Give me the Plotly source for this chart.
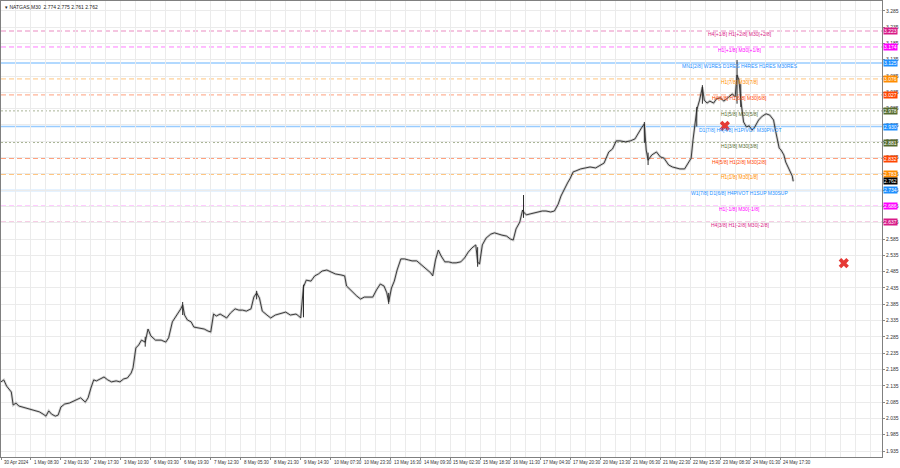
import plotly.graph_objects as go

title_text = "NATGAS,M30  2.774 2.775 2.761 2.762"

tick_labels = ["30 Apr 2024", "1 May 08:30", "2 May 01:30", "2 May 17:30", "3 May 10:30",
               "6 May 03:30", "6 May 19:30", "7 May 12:30", "8 May 05:30", "8 May 21:30",
               "9 May 14:30", "10 May 07:30", "10 May 23:30", "13 May 16:30", "14 May 09:30",
               "15 May 02:30", "15 May 18:30", "16 May 11:30", "17 May 04:30", "17 May 20:30",
               "20 May 13:30", "21 May 06:30", "21 May 22:30", "22 May 15:30", "23 May 08:30",
               "24 May 01:30", "24 May 17:30"]
tick_bars = [0, 32, 64, 96, 128, 160, 192, 224, 256, 288, 320, 352, 384, 416, 448,
             480, 512, 544, 576, 608, 640, 672, 704, 736, 768, 800, 832]

bars = [0, 3, 6, 11, 13, 16, 19, 23, 28, 32,
        36, 41, 45, 48, 51, 54, 58, 61, 64, 68,
        73, 77, 81, 85, 90, 93, 96, 99, 102, 107,
        110, 114, 118, 123, 127, 131, 135, 139, 141, 144,
        147, 150, 154, 157, 160, 165, 171, 176, 179, 183,
        188, 192, 194, 196, 199, 203, 206, 211, 217, 221,
        224, 227, 230, 234, 237, 241, 245, 250, 254, 258,
        262, 267, 270, 273, 276, 279, 284, 288, 293, 299,
        304, 309, 315, 318, 320, 323, 326, 331, 335, 339,
        343, 348, 352, 357, 363, 367, 369, 372, 375, 380,
        384, 388, 393, 397, 401, 405, 409, 412, 414, 417,
        420, 423, 427, 431, 435, 439, 444, 448, 452, 455,
        459, 461, 464, 467, 470, 474, 478, 482, 486, 491,
        495, 499, 503, 507, 509, 511, 514, 518, 523, 527,
        531, 535, 540, 544, 547, 550, 554, 557, 558, 561,
        565, 570, 574, 578, 582, 587, 591, 595, 598, 602,
        605, 608, 611, 614, 619, 624, 629, 635, 640, 644,
        649, 653, 657, 661, 667, 672, 677, 681, 684, 687,
        689, 691, 695, 700, 704, 708, 713, 717, 721, 725,
        730, 734, 737, 739, 741, 743, 746, 748, 749, 751,
        754, 757, 761, 764, 768, 772, 777, 781, 784, 786,
        788, 790, 793, 796, 799, 802, 805, 809, 813, 817,
        821, 825, 827, 829, 831, 833, 836, 838, 841, 843,
        845, 846]

close = [2.147, 2.153, 2.134, 2.116, 2.076, 2.082, 2.073, 2.070, 2.064, 2.061,
         2.058, 2.055, 2.048, 2.042, 2.058, 2.048, 2.042, 2.045, 2.070, 2.079,
         2.082, 2.088, 2.094, 2.098, 2.085, 2.098, 2.128, 2.153, 2.150, 2.159,
         2.162, 2.153, 2.147, 2.150, 2.147, 2.156, 2.159, 2.174, 2.190, 2.251,
         2.260, 2.275, 2.269, 2.309, 2.288, 2.275, 2.275, 2.269, 2.282, 2.331,
         2.352, 2.371, 2.383, 2.352, 2.337, 2.331, 2.315, 2.312, 2.309, 2.303,
         2.300, 2.355, 2.349, 2.355, 2.349, 2.343, 2.358, 2.371, 2.367, 2.367,
         2.364, 2.371, 2.407, 2.420, 2.404, 2.364, 2.352, 2.343, 2.352, 2.358,
         2.361, 2.352, 2.355, 2.349, 2.343, 2.438, 2.459, 2.456, 2.472, 2.478,
         2.487, 2.490, 2.484, 2.478, 2.475, 2.472, 2.441, 2.432, 2.423, 2.410,
         2.401, 2.407, 2.407, 2.407, 2.429, 2.447, 2.441, 2.420, 2.392, 2.435,
         2.456, 2.490, 2.524, 2.524, 2.521, 2.518, 2.518, 2.508, 2.496, 2.490,
         2.481, 2.472, 2.521, 2.551, 2.533, 2.515, 2.515, 2.512, 2.512, 2.515,
         2.527, 2.545, 2.558, 2.567, 2.515, 2.508, 2.567, 2.588, 2.600, 2.604,
         2.600, 2.597, 2.594, 2.585, 2.582, 2.616, 2.637, 2.674, 2.668, 2.659,
         2.662, 2.665, 2.668, 2.671, 2.671, 2.668, 2.671, 2.692, 2.717, 2.742,
         2.757, 2.772, 2.791, 2.794, 2.800, 2.803, 2.806, 2.803, 2.812, 2.818,
         2.852, 2.861, 2.886, 2.886, 2.883, 2.886, 2.892, 2.913, 2.926, 2.938,
         2.858, 2.827, 2.843, 2.852, 2.837, 2.833, 2.812, 2.806, 2.803, 2.800,
         2.800, 2.821, 2.833, 2.889, 2.935, 2.981, 3.011, 3.042, 3.051, 3.011,
         3.002, 3.008, 3.002, 3.015, 3.018, 3.008, 3.021, 3.030, 3.021, 3.088,
         3.073, 3.011, 2.944, 2.929, 2.932, 2.919, 2.929, 2.950, 2.962, 2.969,
         2.965, 2.950, 2.919, 2.889, 2.864, 2.858, 2.843, 2.821, 2.803, 2.791,
         2.778, 2.762]

wick_bars = [154, 194, 273, 323, 414, 509, 558, 687, 691, 743, 749, 786, 790]
wick_high = [2.285, 2.392, 2.426, 2.445, 2.420, 2.560, 2.720, 2.944, 2.850, 2.990, 3.057, 3.134, 3.060]
wick_low = [2.255, 2.352, 2.400, 2.345, 2.386, 2.500, 2.650, 2.880, 2.812, 2.930, 3.000, 3.000, 2.990]

level_prices = [3.223, 3.174, 3.125, 3.076, 3.027, 2.978, 2.930, 2.881, 2.832, 2.783, 2.734, 2.686, 2.637]
level_texts = ["H4[+1/8] H1[+2/8] M30[+2/8]", "H1[+1/8] M30[+1/8]",
               "MN1[2/8] W1RES D1RES H4RES H1RES M30RES", "H1[7/8] M30[7/8]",
               "H4[6/8] H1[6/8] M30[6/8]", "H1[5/8] M30[5/8]",
               "D1[7/8] H4[4/8] H1PIVOT M30PIVOT", "H1[3/8] M30[3/8]",
               "H4[5/8] H1[2/8] M30[2/8]", "H1[1/8] M30[1/8]",
               "W1[7/8] D1[6/8] H4PIVOT H1SUP M30SUP", "H1[-1/8] M30[-1/8]",
               "H4[3/8] H1[-2/8] M30[-2/8]"]
level_colors = ["#d81b87", "#ff00ff", "#1e90ff", "#ff8c00", "#ff4500", "#556b2f", "#1e90ff",
                "#556b2f", "#ff4500", "#ff8c00", "#1e90ff", "#ff00ff", "#d81b87"]
level_dash = ["5px,3px", "5px,3px", "solid", "5px,3px", "5px,3px", "2px,2px", "solid",
              "2px,2px", "5px,3px", "5px,3px", "solid", "5px,3px", "5px,3px"]
label_bar = 789

current_price = 2.762

mark_bars = [773, 900]
mark_prices = [2.932, 2.511]

fig = go.Figure()

# level lines
for p, c, d in zip(level_prices, level_colors, level_dash):
    fig.add_shape(type="line", xref="paper", x0=0, x1=1, yref="y", y0=p, y1=p,
                  line=dict(color=c, width=1.6 if d == "solid" else 1, dash=d),
                  opacity=0.45 if d == "solid" else 0.5, layer="below")

# price path (soft band under the close line to mimic dense bars)
fig.add_trace(go.Scatter(x=bars, y=close, mode="lines",
                         line=dict(color="rgba(80,80,80,0.25)", width=2.6), hoverinfo="skip"))
fig.add_trace(go.Scatter(x=bars, y=close, mode="lines",
                         line=dict(color="#2a2a2a", width=0.9), hoverinfo="skip"))
wx, wy = [], []
for b, h, l in zip(wick_bars, wick_high, wick_low):
    wx += [b, b, None]
    wy += [l, h, None]
fig.add_trace(go.Scatter(x=wx, y=wy, mode="lines",
                         line=dict(color="#2a2a2a", width=1), hoverinfo="skip"))

# red crosses
fig.add_trace(go.Scatter(x=mark_bars, y=mark_prices, mode="markers",
                         marker=dict(symbol="x", size=9, color="#e53935", line=dict(width=0)),
                         hoverinfo="skip"))

# level texts
for p, t, c in zip(level_prices, level_texts, level_colors):
    fig.add_annotation(x=label_bar, y=p, xref="x", yref="y", text=t, showarrow=False,
                       xanchor="center", yanchor="middle", yshift=-3,
                       font=dict(family="Liberation Sans", size=5, color=c))

# right price labels
for p, c in zip(level_prices, level_colors):
    fig.add_annotation(x=1, y=p, xref="paper", yref="y", text=f"{p:.3f}", showarrow=False,
                       xanchor="left", yanchor="middle", xshift=1, bgcolor=c, borderpad=0,
                       font=dict(family="Liberation Sans", size=5, color="white"))
fig.add_annotation(x=1, y=current_price, xref="paper", yref="y", text=f"{current_price:.3f}",
                   showarrow=False, xanchor="left", yanchor="middle", xshift=1,
                   bgcolor="#000000", borderpad=0,
                   font=dict(family="Liberation Sans", size=5, color="white"))

# x labels
for b, t in zip(tick_bars, tick_labels):
    fig.add_annotation(x=b, y=0, xref="x", yref="paper", text=t, showarrow=False,
                       xanchor="left", yanchor="top", yshift=-1, xshift=1,
                       font=dict(family="Liberation Sans", size=4.5, color="#333333"))

# title
fig.add_annotation(x=0, y=1, xref="paper", yref="paper", text="▾ " + title_text,
                   showarrow=False, xanchor="left", yanchor="top", xshift=2, yshift=-1,
                   font=dict(family="Liberation Sans", size=5, color="#222222"))

fig.update_layout(
    width=900, height=468,
    margin=dict(l=1, r=18, t=1, b=11, autoexpand=False),
    paper_bgcolor="white", plot_bgcolor="white",
    showlegend=False,
    xaxis=dict(range=[0, 940.8], tickmode="array", tickvals=tick_bars, showticklabels=False,
               ticks="outside", ticklen=2, tickcolor="#888888",
               showgrid=True, gridcolor="#ebebeb", gridwidth=1,
               minor=dict(tick0=0, dtick=16, showgrid=True, gridcolor="#ebebeb"),
               showline=True, linecolor="#808080", linewidth=1, mirror=True, zeroline=False),
    yaxis=dict(range=[1.9166, 3.315], side="right", tick0=1.935, dtick=0.05, tickformat=".3f",
               ticks="outside", ticklen=2, tickcolor="#888888",
               tickfont=dict(family="Liberation Sans", size=5, color="#333333"),
               showgrid=True, gridcolor="#ebebeb", gridwidth=1,
               showline=True, linecolor="#808080", linewidth=1, mirror=True, zeroline=False),
)

fig.write_html("out.html", config={"displayModeBar": False},
               post_script="document.body.style.margin='0';")
